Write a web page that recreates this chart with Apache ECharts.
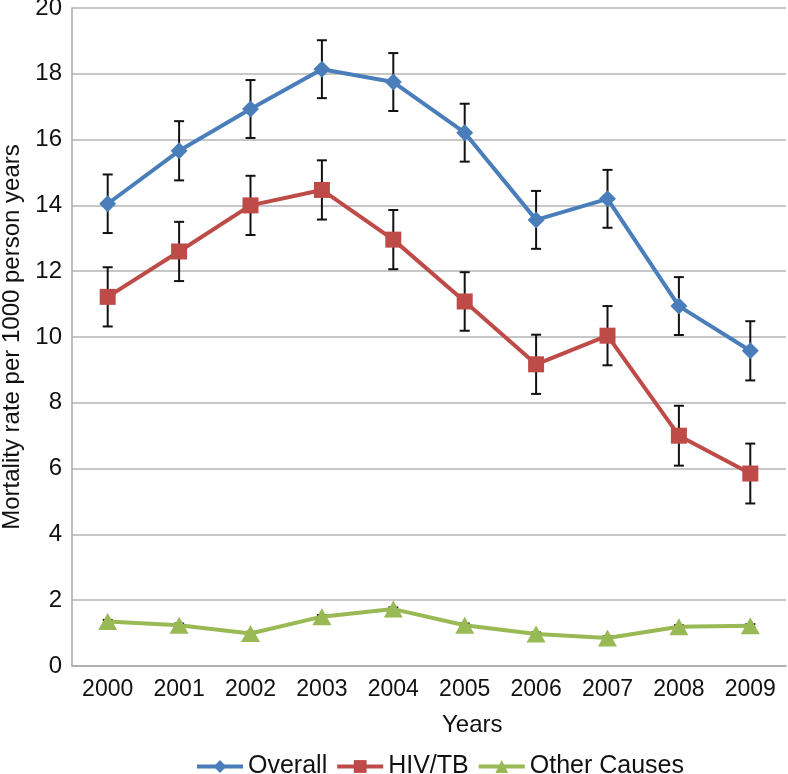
<!DOCTYPE html>
<html>
<head>
<meta charset="utf-8">
<script src="https://cdn.jsdelivr.net/npm/echarts@6/dist/echarts.min.js"></script>
<style>
  html, body { margin: 0; padding: 0; background: #fff; }
  #chart { width: 788px; height: 774px; }
</style>
</head>
<body>
<div id="chart"></div>
<script>
// data
const years = ['2000', '2001', '2002', '2003', '2004', '2005', '2006', '2007', '2008', '2009'];
const overall = [14.05, 15.66, 16.93, 18.14, 17.75, 16.21, 13.56, 14.2, 10.94, 9.58];
const overallErr = [0.89, 0.9, 0.88, 0.88, 0.88, 0.88, 0.88, 0.88, 0.88, 0.9];
const hivtb = [11.22, 12.6, 14.0, 14.47, 12.96, 11.08, 9.17, 10.04, 7.0, 5.85];
const hivtbErr = [0.9, 0.9, 0.9, 0.9, 0.9, 0.89, 0.9, 0.9, 0.91, 0.91];
const other = [1.35, 1.24, 0.99, 1.5, 1.73, 1.24, 0.97, 0.85, 1.19, 1.22];
const otherErr = [0.05, 0.05, 0.05, 0.05, 0.05, 0.05, 0.05, 0.05, 0.05, 0.05];
const yTicks = { min: 0, max: 20, interval: 2 };

const font = '"Liberation Sans", Arial, Helvetica, sans-serif';

// turns values + half widths into [index, low, high]
const errData = (vals, errs) => vals.map((v, i) => [i, v - errs[i], v + errs[i]]);

const errorBarSeries = (name, vals, errs) => ({
    type: 'custom',
    name: name + ' err',
    z: 1,
    silent: true,
    data: errData(vals, errs),
    renderItem: (params, api) => {
        const lo = api.coord([api.value(0), api.value(1)]);
        const hi = api.coord([api.value(0), api.value(2)]);
        const cap = 5;
        const style = { stroke: '#111', lineWidth: 2 };
        return {
            type: 'group',
            children: [
                { type: 'line', shape: { x1: lo[0], y1: lo[1], x2: hi[0], y2: hi[1] }, style },
                { type: 'line', shape: { x1: hi[0] - cap, y1: hi[1], x2: hi[0] + cap, y2: hi[1] }, style },
                { type: 'line', shape: { x1: lo[0] - cap, y1: lo[1], x2: lo[0] + cap, y2: lo[1] }, style }
            ]
        };
    }
});

const lineSeries = (name, vals, color, symbol, size) => ({
    type: 'line',
    name,
    z: 3,
    data: vals,
    symbol,
    symbolSize: size,
    lineStyle: { color, width: 4 },
    itemStyle: { color },
    emphasis: { disabled: true }
});

const chart = echarts.init(document.getElementById('chart'));
chart.setOption({
    animation: false,
    backgroundColor: '#fff',
    textStyle: { fontFamily: font },
    grid: { left: 72, right: 2, top: 8, bottom: 108, outerBoundsMode: 'none' },
    legend: {
        left: 190,
        top: 749,
        itemWidth: 46,
        itemHeight: 16,
        itemGap: 8,
        lineStyle: { width: 4 },
        textStyle: { fontSize: 25, color: '#111', fontFamily: font },
        data: ['Overall', 'HIV/TB', 'Other Causes']
    },
    xAxis: {
        type: 'category',
        data: years,
        axisTick: { show: false },
        axisLine: { lineStyle: { color: '#a8a8a8', width: 1.5 } },
        axisLabel: { fontSize: 23, color: '#111', margin: 12, fontFamily: font }
    },
    yAxis: {
        type: 'value',
        min: yTicks.min,
        max: yTicks.max,
        interval: yTicks.interval,
        name: 'Mortality rate per 1000 person years',
        nameLocation: 'middle',
        nameGap: 46,
        nameTextStyle: { fontSize: 24, color: '#111', fontFamily: font },
        axisLine: { show: true, lineStyle: { color: '#a8a8a8', width: 1.5 } },
        axisTick: { show: false },
        splitLine: { lineStyle: { color: '#b4b4b4', width: 1.5 } },
        axisLabel: { fontSize: 24, color: '#111', margin: 10, fontFamily: font }
    },
    graphic: [{
        type: 'text',
        left: 442,
        top: 713,
        style: { text: 'Years', font: '24px ' + font, fill: '#111' }
    }],
    series: [
        errorBarSeries('Overall', overall, overallErr),
        errorBarSeries('HIV/TB', hivtb, hivtbErr),
        errorBarSeries('Other Causes', other, otherErr),
        lineSeries('Overall', overall, '#4a7ebb', 'diamond', 17),
        lineSeries('HIV/TB', hivtb, '#be4b48', 'rect', 16),
        lineSeries('Other Causes', other, '#98b954', 'triangle', [19, 17])
    ]
});
</script>
</body>
</html>
